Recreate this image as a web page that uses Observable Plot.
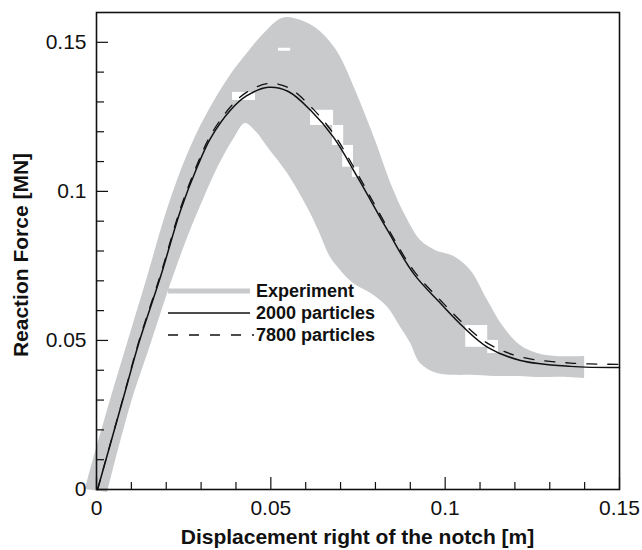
<!DOCTYPE html>
<html>
<head>
<meta charset="utf-8">
<script src="https://cdn.jsdelivr.net/npm/d3@7"></script>
<script src="https://cdn.jsdelivr.net/npm/@observablehq/plot@0.6"></script>
<style>
  html, body { margin: 0; padding: 0; background: #fff; }
  #wrap { position: relative; width: 642px; height: 550px; font-family: "Liberation Sans", Arial, Helvetica, sans-serif; }
  .title { position: absolute; font-weight: bold; font-size: 21px; color: #111; white-space: nowrap; }
  .lg { position: absolute; font-weight: bold; font-size: 18px; color: #111; white-space: nowrap; line-height: 20px; }
</style>
</head>
<body>
<div id="wrap"></div>
<script>
// ---- Data ----
const xTickValues = [0, 0.05, 0.1, 0.15];
const xTickLabels = ["0", "0.05", "0.1", "0.15"];
const yTickValues = [0, 0.05, 0.1, 0.15];
const yTickLabels = ["0", "0.05", "0.1", "0.15"];
const xMinorTicks = [0.01, 0.02, 0.03, 0.04, 0.06, 0.07, 0.08, 0.09, 0.11, 0.12, 0.13, 0.14];
const yMinorTicks = [0.01, 0.02, 0.03, 0.04, 0.06, 0.07, 0.08, 0.09, 0.11, 0.12, 0.13, 0.14];

// Experiment band: upper and lower envelope
const bandUpperX = [-0.0032, -0.0011, 0.0040, 0.0089, 0.0146, 0.0198, 0.0241, 0.0287, 0.0336, 0.0384, 0.0433, 0.0479, 0.0534, 0.0585, 0.0634, 0.0671, 0.0700, 0.0749, 0.0800, 0.0849, 0.0886, 0.0929, 0.0972, 0.1024, 0.1073, 0.1122, 0.1168, 0.1216, 0.1265, 0.1317, 0.1400];
const bandUpperY = [0.0000, 0.0091, 0.0299, 0.0490, 0.0711, 0.0919, 0.1064, 0.1191, 0.1299, 0.1389, 0.1463, 0.1527, 0.1581, 0.1574, 0.1544, 0.1500, 0.1450, 0.1322, 0.1171, 0.1013, 0.0919, 0.0836, 0.0802, 0.0782, 0.0735, 0.0634, 0.0544, 0.0483, 0.0456, 0.0446, 0.0446];
const bandLowerX = [0.0032, 0.0098, 0.0155, 0.0212, 0.0264, 0.0307, 0.0350, 0.0393, 0.0427, 0.0459, 0.0491, 0.0548, 0.0605, 0.0637, 0.0671, 0.0700, 0.0737, 0.0786, 0.0835, 0.0872, 0.0901, 0.0929, 0.0978, 0.1030, 0.1073, 0.1145, 0.1216, 0.1259, 0.1302, 0.1351, 0.1400];
const bandLowerY = [-0.0010, 0.0282, 0.0483, 0.0685, 0.0852, 0.0973, 0.1084, 0.1174, 0.1228, 0.1198, 0.1148, 0.1060, 0.0946, 0.0869, 0.0779, 0.0735, 0.0691, 0.0658, 0.0611, 0.0544, 0.0490, 0.0423, 0.0389, 0.0383, 0.0383, 0.0379, 0.0379, 0.0376, 0.0376, 0.0376, 0.0372];

// white gaps inside the experiment band
const gapX1 = [0.1059, 0.1122, 0.0614, 0.0677, 0.0706, 0.0734, 0.0390, 0.0522];
const gapX2 = [0.1122, 0.1153, 0.0680, 0.0709, 0.0737, 0.0754, 0.0456, 0.0557];
const gapY1 = [0.0477, 0.0456, 0.1221, 0.1154, 0.1081, 0.1047, 0.1305, 0.1470];
const gapY2 = [0.0550, 0.0500, 0.1272, 0.1221, 0.1154, 0.1081, 0.1332, 0.1480];

// 2000 particles (solid)
const p2000X = [0.0003, 0.0083, 0.0121, 0.0184, 0.0241, 0.0290, 0.0327, 0.0384, 0.0430, 0.0493, 0.0550, 0.0614, 0.0680, 0.0749, 0.0835, 0.0909, 0.0987, 0.1053, 0.1122, 0.1216, 0.1360, 0.1500];
const p2000Y = [0.0000, 0.0332, 0.0490, 0.0715, 0.0936, 0.1085, 0.1178, 0.1272, 0.1320, 0.1349, 0.1335, 0.1272, 0.1181, 0.1047, 0.0869, 0.0725, 0.0624, 0.0544, 0.0477, 0.0433, 0.0413, 0.0409];
// 7800 particles (dashed)
const p7800X = [0.0003, 0.0083, 0.0121, 0.0184, 0.0241, 0.0290, 0.0327, 0.0384, 0.0430, 0.0493, 0.0550, 0.0614, 0.0680, 0.0749, 0.0835, 0.0909, 0.0987, 0.1053, 0.1122, 0.1216, 0.1360, 0.1500];
const p7800Y = [0.0000, 0.0335, 0.0495, 0.0722, 0.0944, 0.1094, 0.1188, 0.1283, 0.1332, 0.1362, 0.1348, 0.1285, 0.1193, 0.1058, 0.0878, 0.0735, 0.0634, 0.0556, 0.0490, 0.0445, 0.0424, 0.0420];

const seriesNames = ["Experiment", "2000 particles", "7800 particles"];
const xTitle = "Displacement right of the notch [m]";
const yTitle = "Reaction Force [MN]";

// ---- Layout ----
const W = 642, H = 550;
const mL = 96, mR = 23, mT = 12, mB = 61;
const innerW = W - mL - mR, innerH = H - mT - mB;
const grey = "#c9cacc";
const ink = "#111";

const band = bandUpperX.map((_, i) => ({ux: bandUpperX[i], uy: bandUpperY[i], lx: bandLowerX[i], ly: bandLowerY[i]}));
const gaps = gapX1.map((_, i) => ({x1: gapX1[i], x2: gapX2[i], y1: gapY1[i], y2: gapY2[i]}));
const s2000 = p2000X.map((x, i) => ({x, y: p2000Y[i]}));
const s7800 = p7800X.map((x, i) => ({x, y: p7800Y[i]}));

const chart = Plot.plot({
  width: W, height: H,
  marginLeft: mL, marginRight: mR, marginTop: mT, marginBottom: mB,
  x: {domain: [0, 0.15]},
  y: {domain: [0, 0.16]},
  style: {fontFamily: '"Liberation Sans", Arial, Helvetica, sans-serif', color: ink, background: "transparent"},
  marks: [
    Plot.area(band, {x1: "lx", y1: "ly", x2: "ux", y2: "uy", fill: grey, curve: "catmull-rom"}),
    Plot.rect(gaps, {x1: "x1", x2: "x2", y1: "y1", y2: "y2", fill: "#fff"}),
    // ticks (inward)
    Plot.tickX(xMinorTicks, {x: d => d, stroke: ink, strokeWidth: 1.2, insetTop: innerH - 7}),
    Plot.tickX(xTickValues, {x: d => d, stroke: ink, strokeWidth: 1.2, insetTop: innerH - 12}),
    Plot.tickY(yMinorTicks, {y: d => d, stroke: ink, strokeWidth: 1.2, insetRight: innerW - 8}),
    Plot.tickY(yTickValues, {y: d => d, stroke: ink, strokeWidth: 1.2, insetRight: innerW - 12}),
    Plot.line(s7800, {x: "x", y: "y", stroke: ink, strokeWidth: 1.3, strokeDasharray: "10,11", curve: "catmull-rom"}),
    Plot.line(s2000, {x: "x", y: "y", stroke: ink, strokeWidth: 1.5, curve: "catmull-rom"}),
    Plot.frame({stroke: ink, strokeWidth: 1.6}),
    Plot.axisX(xTickValues, {tickSize: 0, tickPadding: 11, fontSize: 21, label: null, tickFormat: (d) => xTickLabels[xTickValues.indexOf(d)]}),
    Plot.axisY(yTickValues, {tickSize: 0, tickPadding: 10, fontSize: 21, label: null, tickFormat: (d) => yTickLabels[yTickValues.indexOf(d)]})
  ]
});

const wrap = document.getElementById("wrap");
wrap.appendChild(chart);
chart.style.position = "absolute";
chart.style.left = "0px";
chart.style.top = "0px";

// Axis titles
const xt = document.createElement("div");
xt.className = "title";
xt.textContent = xTitle;
xt.style.left = (mL + innerW / 2) + "px";
xt.style.top = "537px";
xt.style.transform = "translate(-50%, -50%)";
wrap.appendChild(xt);

const yt = document.createElement("div");
yt.className = "title";
yt.textContent = yTitle;
yt.style.left = "21px";
yt.style.top = "255px";
yt.style.transform = "translate(-50%, -50%) rotate(-90deg)";
wrap.appendChild(yt);

// Legend
const legendRows = [
  {name: seriesNames[0], stroke: grey, width: 5, dash: null, x2: 250},
  {name: seriesNames[1], stroke: ink, width: 1.5, dash: null, x2: 250},
  {name: seriesNames[2], stroke: ink, width: 1.3, dash: "10,11", x2: 254}
];
const svgNS = "http://www.w3.org/2000/svg";
const lsvg = document.createElementNS(svgNS, "svg");
lsvg.setAttribute("width", W);
lsvg.setAttribute("height", H);
lsvg.style.position = "absolute";
lsvg.style.left = "0px";
lsvg.style.top = "0px";
legendRows.forEach((r, i) => {
  const cy = 291 + i * 22;
  const ln = document.createElementNS(svgNS, "line");
  ln.setAttribute("x1", 168);
  ln.setAttribute("x2", r.x2);
  ln.setAttribute("y1", cy);
  ln.setAttribute("y2", cy);
  ln.setAttribute("stroke", r.stroke);
  ln.setAttribute("stroke-width", r.width);
  if (r.dash) ln.setAttribute("stroke-dasharray", r.dash);
  lsvg.appendChild(ln);
});
wrap.appendChild(lsvg);
legendRows.forEach((r, i) => {
  const cy = 291 + i * 22;
  const t = document.createElement("div");
  t.className = "lg";
  t.textContent = r.name;
  t.style.left = "256px";
  t.style.top = (cy - 10) + "px";
  wrap.appendChild(t);
});
</script>
</body>
</html>
